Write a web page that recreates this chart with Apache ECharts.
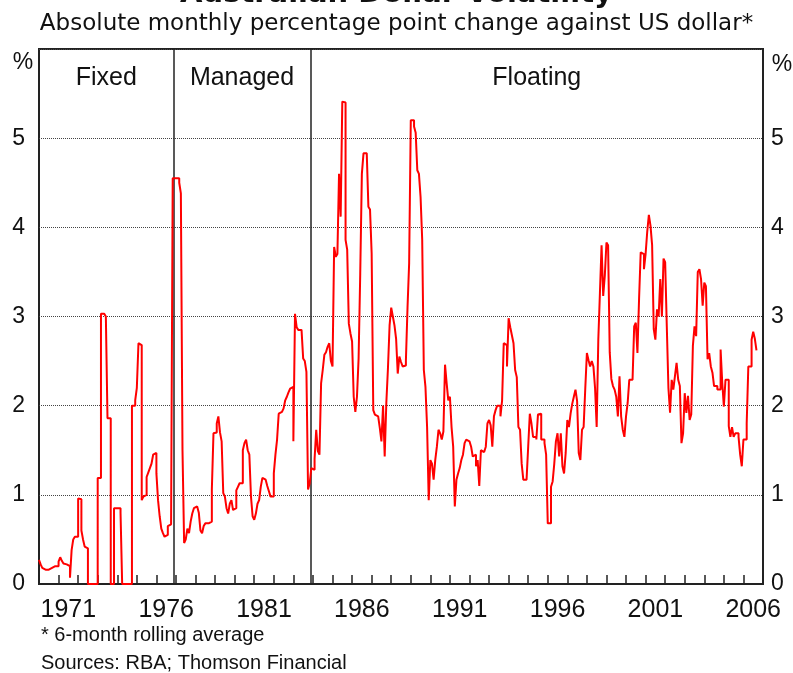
<!DOCTYPE html>
<html>
<head>
<meta charset="utf-8">
<script src="https://cdn.jsdelivr.net/npm/echarts@6/dist/echarts.min.js"></script>
<style>
  html, body { margin: 0; padding: 0; background: #fff; }
  #chart { width: 793px; height: 673px; }
</style>
</head>
<body>
<div id="chart"></div>
<script>
// monthly series, first value = Jan 1970
const startYear = 1970
const vol = [
  0.27, 0.22, 0.18, 0.16, 0.15, 0.16, 0.17, 0.18, 0.2, 0.2, 0.19, 0.2,      // 1970
  0.25, 0.3, 0.26, 0.23, 0.22, 0.22, 0.2, 0.07, 0.38, 0.5, 0.53, 0.53,      // 1971
  0.96, 0.95, 0.6, 0.5, 0.42, 0.4, 0, 0, 0, 0, 0, 0,                         // 1972
  1.19, 1.19, 3.03, 3.03, 3.03, 3.0, 1.86, 1.86, 0, 0, 0.85, 0.85,           // 1973
  0.85, 0.85, 0.8, 0, 0, 0, 0, 0, 0, 2.0, 2.0, 2.06,                         // 1974
  2.2, 2.7, 2.68, 0.94, 0.98, 1.0, 1.2, 1.25, 1.3, 1.35, 1.45, 1.47,         // 1975
  1.24, 0.94, 0.76, 0.62, 0.57, 0.53, 0.55, 0.65, 0.67, 0.68, 4.55, 4.55,    // 1976
  4.55, 4.55, 4.5, 4.38, 1.5, 0.46, 0.5, 0.62, 0.57, 0.7, 0.79, 0.85,        // 1977
  0.87, 0.89, 0.8, 0.6, 0.57, 0.65, 0.68, 0.68, 0.68, 0.7, 1.06, 1.69,       // 1978
  1.7, 1.8, 1.88, 1.7, 1.6, 1.02, 0.98, 0.85, 0.79, 0.9, 0.94, 0.83,         // 1979
  0.85, 1.05, 1.09, 1.13, 1.13, 1.5, 1.58, 1.62, 1.5, 1.45, 0.98, 0.76,      // 1980
  0.72, 0.79, 0.9, 0.94, 1.09, 1.19, 1.17, 1.17, 1.1, 1.04, 0.98, 0.98,      // 1981
  1.24, 1.45, 1.62, 1.91, 1.93, 1.95, 1.97, 2.06, 2.1, 2.15, 2.19, 2.21,     // 1982
  1.6, 3.03, 2.88, 2.85, 2.85, 2.85, 2.53, 2.5, 2.38, 1.06, 1.13, 1.3,       // 1983
  1.28, 1.4, 1.73, 1.49, 1.45, 2.25, 2.4, 2.57, 2.6, 2.66, 2.7, 2.5,         // 1984
  2.44, 3.78, 3.67, 3.7, 4.6, 4.12, 5.41, 5.4, 3.86, 3.75, 2.92, 2.81,       // 1985
  2.72, 2.1, 1.93, 2.1, 2.53, 3.48, 4.6, 4.83, 4.83, 4.81, 4.23, 4.2,        // 1986
  3.71, 1.95, 1.9, 1.88, 1.86, 1.75, 1.6, 2.0, 1.43, 2.03, 2.42, 2.9,        // 1987
  3.1, 3.0, 2.9, 2.75, 2.36, 2.55, 2.49, 2.44, 2.45, 2.5, 3.1, 3.6,          // 1988
  5.2, 5.2, 5.13, 5.06, 4.64, 4.6, 4.34, 3.86, 2.4, 2.21, 1.76, 0.94,        // 1989
  1.39, 1.35, 1.17, 1.39, 1.54, 1.73, 1.69, 1.62, 1.71, 2.46, 2.25, 2.06,    // 1990
  2.1, 1.76, 1.54, 0.87, 1.17, 1.24, 1.3, 1.39, 1.45, 1.58, 1.62, 1.6,       // 1991
  1.62, 1.54, 1.43, 1.45, 1.32, 1.39, 1.1, 1.5, 1.48, 1.5, 1.54, 1.8,        // 1992
  1.84, 1.78, 1.54, 1.88, 1.95, 2.0, 2.0, 1.88, 2.06, 2.7, 2.68, 2.44,       // 1993
  2.98, 2.88, 2.79, 2.7, 2.4, 2.32, 1.76, 1.73, 1.35, 1.17, 1.17, 1.17,      // 1994
  1.54, 1.91, 1.8, 1.65, 1.65, 1.62, 1.9, 1.91, 1.62, 1.62, 1.58, 1.45,      // 1995
  0.68, 0.68, 1.09, 1.15, 1.35, 1.6, 1.69, 1.43, 1.69, 1.32, 1.24, 1.47,     // 1996
  1.84, 1.76, 1.91, 2.02, 2.1, 2.18, 2.05, 1.47, 1.39, 1.73, 1.76, 2.19,     // 1997
  2.59, 2.51, 2.44, 2.5, 2.44, 2.2, 1.76, 2.74, 3.27, 3.8, 3.23, 3.46,       // 1998
  3.83, 3.8, 2.6, 2.3, 2.22, 2.18, 2.1, 1.88, 2.33, 1.88, 1.73, 1.65,        // 1999
  1.88, 2.03, 2.29, 2.29, 2.3, 2.89, 2.93, 2.59, 3.2, 3.72, 3.7, 3.53,       // 2000
  3.7, 3.95, 4.14, 4.02, 3.8, 2.86, 2.74, 3.08, 3.0, 3.42, 3.0, 3.65,        // 2001
  3.61, 2.89, 2.2, 1.92, 2.29, 2.18, 2.33, 2.48, 2.29, 2.22, 1.58, 1.69,     // 2002
  2.14, 1.92, 2.11, 1.84, 1.9, 2.67, 2.89, 2.78, 3.5, 3.53, 3.42, 3.12,      // 2003
  3.38, 3.34, 2.52, 2.59, 2.44, 2.37, 2.22, 2.22, 2.18, 2.18, 2.63, 2.26,    // 2004
  1.99, 2.29, 2.29, 1.77, 1.65, 1.76, 1.65, 1.69, 1.69, 1.65, 1.45, 1.32,    // 2005
  1.62, 1.62, 1.8, 2.44, 2.44, 2.74, 2.83, 2.75, 2.62                        // 2006
]

// year categories for the label axis (labels sit mid-year, ticks at year boundaries)
const years = []
for (let y = 1970; y <= 2006; y++) years.push(String(y))

// exchange rate regimes (decimal years)
const regimeNames = ['Fixed', 'Managed', 'Floating']
const regimeStarts = [1970, 1976.87, 1983.88]
const regimeEnds = [1976.87, 1983.88, 2007]

const seriesData = vol.map((v, i) => [startYear + i / 12, v])

const txt = '#111'
const chart = echarts.init(document.getElementById('chart'))

const option = {
  animation: false,
  backgroundColor: '#fff',
  title: [
    {
      text: 'Australian Dollar Volatility',
      left: 'center', top: -20, padding: 0,
      textStyle: {fontFamily: 'DejaVu Sans', fontWeight: 'bold', fontSize: 29, color: txt}
    },
    {
      text: 'Absolute monthly percentage point change against US dollar*',
      left: 'center', top: 13, padding: 0,
      textStyle: {fontFamily: 'DejaVu Sans', fontWeight: 'normal', fontSize: 23, color: txt}
    }
  ],
  grid: {
    left: 39, right: 30, top: 49, bottom: 89,
    show: true, borderColor: '#222', borderWidth: 2, backgroundColor: 'transparent'
  },
  xAxis: [
    {
      type: 'category',
      data: years,
      boundaryGap: true,
      axisLine: {show: true, lineStyle: {color: '#222', width: 2}},
      axisTick: {show: true, inside: true, length: 9, interval: 0, alignWithLabel: false, lineStyle: {color: '#222', width: 1.5}},
      axisLabel: {
        interval: (idx, val) => (Number(val) - 1971) % 5 === 0,
        margin: 14,
        fontFamily: 'Liberation Sans', fontSize: 25, color: txt
      },
      splitLine: {show: false}
    },
    {
      type: 'value', min: 1970, max: 2007, show: false
    }
  ],
  yAxis: [
    {
      type: 'value', min: 0, max: 6, interval: 1, position: 'left',
      axisLine: {show: false}, axisTick: {show: false},
      axisLabel: {
        margin: 14, fontFamily: 'Liberation Sans', fontSize: 23, color: txt,
        padding: [6, 0, 0, 0],
        formatter: v => (v === 6 ? '' : v)
      },
      splitLine: {lineStyle: {color: '#444', type: 'dotted', width: 1}}
    },
    {
      type: 'value', min: 0, max: 6, interval: 1, position: 'right',
      axisLine: {show: false}, axisTick: {show: false},
      axisLabel: {
        margin: 8, fontFamily: 'Liberation Sans', fontSize: 23, color: txt,
        padding: [6, 0, 0, 0],
        formatter: v => (v === 6 ? '' : v)
      },
      splitLine: {show: false}
    }
  ],
  graphic: [
    {type: 'text', x: 23, y: 63, style: {text: '%', fontFamily: 'Liberation Sans', fontSize: 23, fill: txt, textAlign: 'center', textVerticalAlign: 'middle'}},
    {type: 'text', x: 782, y: 65, style: {text: '%', fontFamily: 'Liberation Sans', fontSize: 23, fill: txt, textAlign: 'center', textVerticalAlign: 'middle'}},
    {type: 'text', x: 41, y: 625, style: {text: '* 6-month rolling average', fontFamily: 'Liberation Sans', fontSize: 20, fill: txt, textVerticalAlign: 'top'}},
    {type: 'text', x: 41, y: 653, style: {text: 'Sources: RBA; Thomson Financial', fontFamily: 'Liberation Sans', fontSize: 20, fill: txt, textVerticalAlign: 'top'}}
  ],
  series: [
    {
      type: 'line',
      xAxisIndex: 1,
      yAxisIndex: 0,
      step: 'end',
      symbol: 'none',
      data: seriesData,
      lineStyle: {color: '#ff0000', width: 2},
      z: 10,
      markLine: {
        silent: true,
        symbol: 'none',
        label: {show: false},
        lineStyle: {color: '#222', type: 'solid', width: 1.5},
        data: regimeStarts.slice(1).map(x => ({xAxis: x}))
      },
      markArea: {
        silent: true,
        itemStyle: {color: 'transparent'},
        label: {
          position: 'insideTop', distance: 17,
          fontFamily: 'Liberation Sans', fontSize: 25, color: txt
        },
        data: regimeNames.map((n, i) => [{name: n, xAxis: regimeStarts[i]}, {xAxis: regimeEnds[i]}])
      }
    }
  ]
}

chart.setOption(option)
</script>
</body>
</html>
